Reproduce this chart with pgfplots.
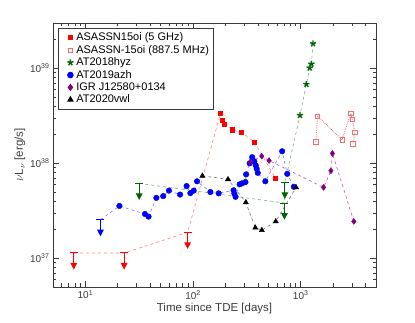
\documentclass[border=0pt]{standalone}
\usepackage{fontspec}
\setmainfont{Liberation Sans}
\usepackage{pgfplots}
\pgfplotsset{compat=1.18}
\usetikzlibrary{plotmarks}

\definecolor{dgreen}{RGB}{0,100,0}
\definecolor{purp}{RGB}{128,0,128}
\definecolor{pinkred}{RGB}{245,110,110}
\definecolor{axgray}{RGB}{60,60,60}

% upper limit: bar with a downward arrow
\pgfdeclareplotmark{ulim}{%
  \pgfpathmoveto{\pgfqpoint{-4pt}{0pt}}%
  \pgfpathlineto{\pgfqpoint{4pt}{0pt}}%
  \pgfpathmoveto{\pgfqpoint{0pt}{0pt}}%
  \pgfpathlineto{\pgfqpoint{0pt}{-11pt}}%
  \pgfusepathqstroke
  \pgfpathmoveto{\pgfqpoint{-2.6pt}{-10.5pt}}%
  \pgfpathlineto{\pgfqpoint{2.6pt}{-10.5pt}}%
  \pgfpathlineto{\pgfqpoint{0pt}{-15.5pt}}%
  \pgfpathclose
  \pgfusepathqfillstroke
}

\begin{document}
\begin{tikzpicture}
\useasboundingbox (-53pt,-35pt) rectangle (362pt,287pt);
\begin{axis}[
  at={(0,0)}, anchor=south west, scale only axis,
  width=323pt, height=264pt,
  xmode=log, ymode=log,
  xmin=5, xmax=5000, ymin=5e36, ymax=3e39,
  xtick={10,100,1000},
  xticklabels={10\textsuperscript{1},10\textsuperscript{2},10\textsuperscript{3}},
  ytick={1e37,1e38,1e39},
  yticklabels={10\textsuperscript{37},10\textsuperscript{38},10\textsuperscript{39}},
  minor xtick={6,7,8,9,20,30,40,50,60,70,80,90,200,300,400,500,600,700,800,900,2000,3000,4000,5000},
  minor ytick={6e36,7e36,8e36,9e36,2e37,3e37,4e37,5e37,6e37,7e37,8e37,9e37,2e38,3e38,4e38,5e38,6e38,7e38,8e38,9e38,2e39,3e39},
  tick align=inside, xtick pos=both, ytick pos=both,
  major tick length=6pt, minor tick length=3.5pt,
  axis line style={axgray, line width=0.9pt},
  every tick/.style={axgray, line width=0.7pt},
  tick label style={font=\fontsize{10}{11}\selectfont, text=axgray},
  xlabel={Time since TDE [days]},
  ylabel={$\nu$L$_\nu$ [erg/s]},
  label style={font=\fontsize{11.5}{13}\selectfont, text=axgray},
  xlabel style={yshift=3pt},
  ylabel style={yshift=-2pt},
  legend style={at={(0.017,0.981)}, anchor=north west, draw=axgray, line width=0.9pt,
    font=\fontsize{11}{12.5}\selectfont, row sep=-1pt, inner sep=2.5pt},
  legend cell align=left,
  legend image code/.code={\path (0cm,0cm) (0.42cm,0cm);\draw[#1] plot coordinates {(0.3cm,0cm)};},
]
% ---- connecting lines ----
\addplot[forget plot, red!45, dashed, line width=0.7pt] coordinates {
 (7.8,1.14e37)(22.9,1.14e37)(89,1.88e37)(180,3.38e38)(188,2.84e38)(196,2.58e38)(232,2.26e38)(279,2.13e38)(370,1.68e38)(582,7.0e37)};
\addplot[forget plot, pinkred, densely dotted, line width=0.8pt] coordinates {
 (1379,1.68e38)(1432,3.15e38)(2417,1.77e38)(2916,3.33e38)(3019,2.9e38)(3178,2.1e38)(3048,1.6e38)};
\addplot[forget plot, dgreen!45, dashed, line width=0.7pt] coordinates {
 (31.6,6.15e37)(706,3.82e37)(712,6.31e37)(984,3.2e38)(1128,6.79e38)(1211,1.01e39)(1256,1.11e39)(1300,1.82e39)};
\addplot[forget plot, blue!45, dashed, line width=0.7pt] coordinates {
 (13.8,2.55e37)(20.7,3.56e37)(35.7,2.93e37)(38.6,2.75e37)(45.6,4.33e37)(52.8,4.52e37)(59.7,5.16e37)(75.7,4.69e37)(87.1,5.77e37)(94.4,4.86e37)(101.4,5.16e37)(108.9,6.47e37)(144.7,4.99e37)(173,4.83e37)(237.6,5.2e37)(241.7,4.8e37)(248,4.44e37)(270.5,6.01e37)(285.5,6.16e37)(306.6,6.35e37)(311,7.65e37)(335.7,1.0e38)(354,1.16e38)(370,1.05e38)(382,9.53e37)(390,8.75e37)(399,7.94e37)(469,6.47e37)(672,1.34e38)(749,7.75e37)(863,5.66e37)};
\addplot[forget plot, purp!55, dashed, line width=0.7pt] coordinates {
 (339,1.03e38)(434,1.19e38)(508,1.07e38)(1629,5.58e37)(1907,8.34e37)(1969,1.27e38)(3110,2.45e37)};
\addplot[forget plot, black!50, dashed, line width=0.7pt] coordinates {
 (122,7.38e37)(211,6.79e37)(309,3.88e37)(378,2.1e37)(435,1.98e37)(586,2.45e37)(906,5.58e37)};
% ---- upper limits ----
\addplot[forget plot, only marks, mark=ulim, mark options={draw=red, fill=red, line width=1pt}] coordinates {
 (7.8,1.14e37)(22.9,1.14e37)(89,1.88e37)};
\addplot[forget plot, only marks, mark=ulim, mark options={draw=blue, fill=blue, line width=1pt}] coordinates {
 (13.8,2.55e37)};
\addplot[forget plot, only marks, mark=ulim, mark options={draw=dgreen, fill=dgreen, line width=1pt}] coordinates {
 (31.6,6.15e37)(706,3.82e37)(712,6.31e37)};
% ---- detections ----
\addplot[only marks, mark=square*, mark size=2.1pt, mark options={draw=red, fill=red}] coordinates {
 (180,3.38e38)(188,2.84e38)(196,2.58e38)(232,2.26e38)(279,2.13e38)(370,1.68e38)(582,7.0e37)};
\addlegendentry{ASASSN15oi (5 GHz)}
\addplot[only marks, mark=square, mark size=2.1pt, mark options={draw=pinkred, line width=0.7pt}] coordinates {
 (1379,1.68e38)(1432,3.15e38)(2417,1.77e38)(2916,3.33e38)(3019,2.9e38)(3178,2.1e38)(3048,1.6e38)};
\addlegendentry{ASASSN-15oi (887.5 MHz)}
\addplot[only marks, mark=star, mark size=3.2pt, mark options={draw=dgreen, fill=dgreen, line width=1.4pt}] coordinates {
 (984,3.2e38)(1128,6.79e38)(1211,1.01e39)(1256,1.11e39)(1300,1.82e39)};
\addlegendentry{AT2018hyz}
\addplot[only marks, mark=*, mark size=2.8pt, mark options={draw=blue, fill=blue}] coordinates {
 (20.7,3.56e37)(35.7,2.93e37)(38.6,2.75e37)(45.6,4.33e37)(52.8,4.52e37)(59.7,5.16e37)(75.7,4.69e37)(87.1,5.77e37)(94.4,4.86e37)(101.4,5.16e37)(108.9,6.47e37)(144.7,4.99e37)(173,4.83e37)(237.6,5.2e37)(241.7,4.8e37)(248,4.44e37)(270.5,6.01e37)(285.5,6.16e37)(306.6,6.35e37)(311,7.65e37)(335.7,1.0e38)(354,1.16e38)(370,1.05e38)(382,9.53e37)(390,8.75e37)(399,7.94e37)(469,6.47e37)(672,1.34e38)(749,7.75e37)(863,5.66e37)};
\addlegendentry{AT2019azh}
\addplot[only marks, mark=diamond*, mark size=3pt, mark options={draw=purp, fill=purp}] coordinates {
 (339,1.03e38)(434,1.19e38)(508,1.07e38)(1629,5.58e37)(1907,8.34e37)(1969,1.27e38)(3110,2.45e37)};
\addlegendentry{IGR J12580+0134}
\addplot[only marks, mark=triangle*, mark size=3pt, mark options={draw=black, fill=black}] coordinates {
 (122,7.38e37)(211,6.79e37)(309,3.88e37)(378,2.1e37)(435,1.98e37)(586,2.45e37)(906,5.58e37)};
\addlegendentry{AT2020vwl}
\end{axis}
\end{tikzpicture}
\end{document}
